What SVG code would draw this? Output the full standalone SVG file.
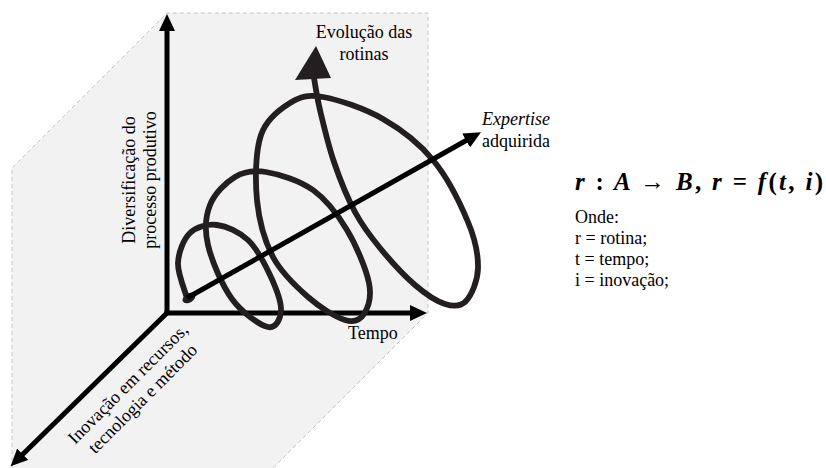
<svg xmlns="http://www.w3.org/2000/svg" width="826" height="468" viewBox="0 0 826 468">
<defs>
<marker id="ah" markerUnits="userSpaceOnUse" markerWidth="18" markerHeight="16" viewBox="0 0 18 16" refX="1" refY="8" orient="auto"><path d="M0,0 L17,8 L0,16 Z" fill="#000"/></marker>
</defs>
<style>
.t{font-family:"Liberation Serif","Times New Roman",serif;font-size:18px;fill:#000}
.ax{stroke:#000;stroke-width:5;fill:none}
.sp{stroke:#231f20;stroke-width:5.8;fill:none;stroke-linecap:round;stroke-linejoin:round}
.m{font-family:"Liberation Serif","DejaVu Serif",serif;font-size:25px;font-weight:bold;font-style:italic;fill:#000}
.u{font-style:normal}
</style>
<rect width="826" height="468" fill="#fff"/>
<g id="panel">
<path d="M12,468 V168 L167,13 H428 V313 L273,468 Z" fill="#f2f2f2"/>
<path d="M12,468 V168 L167,13 H428 V313 L273,468" fill="none" stroke="#c4c4c4" stroke-width="1" stroke-dasharray="4 3"/>
</g>
<g id="connectors">
<path id="axis-vertical" class="ax" d="M167,313 V30" marker-end="url(#ah)"/>
<path id="axis-tempo" class="ax" d="M164.5,313 H411" marker-end="url(#ah)"/>
<path id="axis-inovacao" class="ax" d="M168,312 L22,455" marker-end="url(#ah)"/>
<path id="spiral" class="sp" d="M187,298 C185.5,292.2 177.5,273.8 178,263 C178.5,252.2 183.5,239.3 190,233 C196.5,226.7 207.3,223.8 217,225 C226.7,226.2 239.2,231.7 248,240 C256.8,248.3 264.5,263.3 270,275 C275.5,286.7 281.3,301.3 281,310 C280.7,318.7 276.2,328.8 268,327 C259.8,325.2 242,312.7 232,299 C222,285.3 211.7,260.7 208,245 C204.3,229.3 205.5,216.3 210,205 C214.5,193.7 225.7,182.5 235,177 C244.3,171.5 253,169.8 266,172 C279,174.2 299.5,180.3 313,190 C326.5,199.7 337.7,214.5 347,230 C356.3,245.5 366.2,269 369,283 C371.8,297 368,307.8 364,314 C360,320.2 354.3,322.8 345,320 C335.7,317.2 320,307.5 308,297 C296,286.5 281.5,273.2 273,257 C264.5,240.8 259,220.3 257,200 C255,179.7 255.5,151.2 261,135 C266.5,118.8 279.7,109.3 290,103 C300.3,96.7 307.5,94.3 323,97 C338.5,99.7 364.7,108.5 383,119 C401.3,129.5 418.8,142.8 433,160 C447.2,177.2 460.5,204 468,222 C475.5,240 478.3,254.8 478,268 C477.7,281.2 471.5,295 466,301 C460.5,307 453.5,306.7 445,304 C436.5,301.3 425.8,294.3 415,285 C404.2,275.7 390,260.2 380,248 C370,235.8 362.7,226.3 355,212 C347.3,197.7 339.8,179 334,162 C328.2,145 323.3,124 320,110 C316.7,96 315,83.3 314,78"/>
<polygon id="spiral-head" points="316,46 295,80 331,78" fill="#231f20"/>
<ellipse cx="189" cy="298" rx="7" ry="4.5" transform="rotate(-30 189 298)" fill="#231f20"/>
<path id="axis-expertise" class="ax" d="M187,298 L467,140" marker-end="url(#ah)"/>
</g>
<g id="label-evolucao">
<text class="t" text-anchor="middle"><tspan x="364" y="38">Evolução das</tspan><tspan x="364" y="60">rotinas</tspan></text>
</g>
<g id="label-diversificacao" transform="translate(135,180) rotate(-90)">
<text class="t" text-anchor="middle"><tspan x="0" y="0">Diversificação do</tspan><tspan x="0" y="21">processo produtivo</tspan></text>
</g>
<g id="label-inovacao" transform="translate(132,388) rotate(-45)">
<text class="t" text-anchor="middle"><tspan x="0" y="0">Inovação em recursos,</tspan><tspan x="0" y="21">tecnologia e método</tspan></text>
</g>
<g id="label-tempo">
<text class="t" x="348" y="339">Tempo</text>
</g>
<g id="label-expertise">
<text class="t" x="482" y="125" font-style="italic">Expertise</text>
<text class="t" x="482" y="147">adquirida</text>
</g>
<g id="formula">
<text class="m" x="575" y="190" textLength="248" lengthAdjust="spacing">r <tspan class="u">:</tspan> A  <tspan class="u" font-weight="normal">→</tspan> B<tspan class="u">,</tspan> r <tspan class="u">=</tspan> f<tspan class="u">(</tspan>t<tspan class="u">,</tspan> i<tspan class="u">)</tspan></text>
</g>
<g id="legend">
<text class="t"><tspan x="575" y="223">Onde:</tspan><tspan x="575" y="244">r = rotina;</tspan><tspan x="575" y="265">t = tempo;</tspan><tspan x="575" y="286">i = inovação;</tspan></text>
</g>
</svg>
